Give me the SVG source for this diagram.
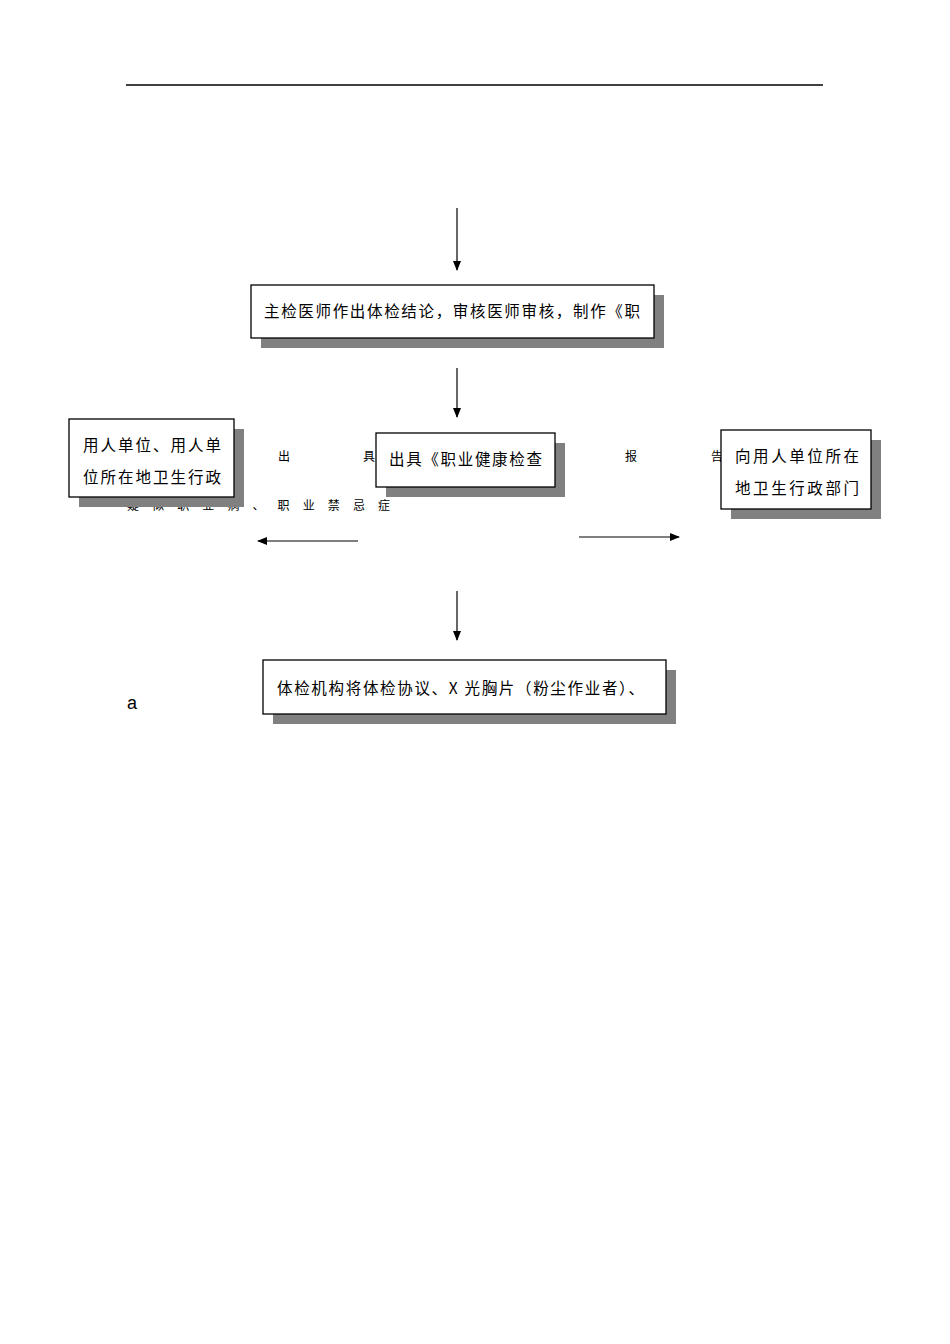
<svg xmlns="http://www.w3.org/2000/svg" width="950" height="1344" viewBox="0 0 950 1344">
<style>
text{font-family:"Noto Sans CJK SC","Liberation Sans",sans-serif;font-size:15.5px;fill:#000}
.sh{fill:#808080}
.bx{fill:#fff;stroke:#000;stroke-width:1.3}
.ln{stroke:#000;stroke-width:1.2;fill:none}
.sm{font-size:12px}
</style>
<defs><marker id="ar" markerWidth="10" markerHeight="8" refX="9" refY="4" orient="auto" markerUnits="userSpaceOnUse"><path d="M0,0L10,4L0,8z" fill="#000"/></marker></defs>
<rect width="950" height="1344" fill="#fff"/>
<line x1="126" y1="85" x2="823" y2="85" stroke="#000" stroke-width="1.3"/>
<g id="bg-text">
<text class="sm" x="127" y="510" textLength="263" lengthAdjust="spacing">疑似职业病、职业禁忌症</text>
<text class="sm" x="278" y="461">出</text>
<text class="sm" x="363" y="461">具</text>
<text class="sm" x="625" y="461">报</text>
<text class="sm" x="711" y="461">告</text>
</g>
<g id="connectors">
<line class="ln" x1="457" y1="208" x2="457" y2="270" marker-end="url(#ar)"/>
<line class="ln" x1="457" y1="368" x2="457" y2="417" marker-end="url(#ar)"/>
<line class="ln" x1="358" y1="541" x2="258" y2="541" marker-end="url(#ar)"/>
<line class="ln" x1="579" y1="537" x2="679" y2="537" marker-end="url(#ar)"/>
<line class="ln" x1="457" y1="591" x2="457" y2="640" marker-end="url(#ar)"/>
</g>
<g id="n1"><rect class="sh" x="261" y="295" width="403" height="53"/><rect class="bx" x="251" y="285" width="403" height="53"/>
<text x="264" y="317" textLength="376" lengthAdjust="spacing">主检医师作出体检结论，审核医师审核，制作《职</text></g>
<g id="n2"><rect class="sh" x="79" y="429" width="165" height="78"/><rect class="bx" x="69" y="419" width="165" height="78"/>
<text x="83" y="451" textLength="138" lengthAdjust="spacing">用人单位、用人单</text>
<text x="83" y="483" textLength="138" lengthAdjust="spacing">位所在地卫生行政</text></g>
<g id="n3"><rect class="sh" x="386" y="443" width="179" height="54"/><rect class="bx" x="376" y="433" width="179" height="54"/>
<text x="389" y="465" textLength="153" lengthAdjust="spacing">出具《职业健康检查</text></g>
<g id="n4"><rect class="sh" x="731" y="440" width="150" height="79"/><rect class="bx" x="721" y="430" width="150" height="79"/>
<text x="735" y="462" textLength="124" lengthAdjust="spacing">向用人单位所在</text>
<text x="735" y="494" textLength="124" lengthAdjust="spacing">地卫生行政部门</text></g>
<g id="n5"><rect class="sh" x="273" y="670" width="403" height="54"/><rect class="bx" x="263" y="660" width="403" height="54"/>
<text x="277" y="694" textLength="367" lengthAdjust="spacing">体检机构将体检协议、X 光胸片（粉尘作业者）、</text></g>
<text x="127" y="709" style="font-family:'Liberation Sans',sans-serif;font-size:18px">a</text>
</svg>
